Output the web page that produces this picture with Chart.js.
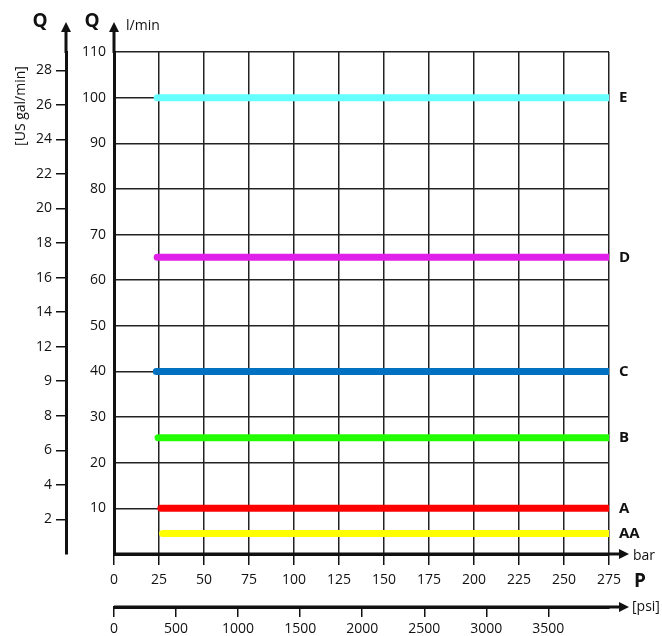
<!DOCTYPE html>
<html>
<head>
<meta charset="utf-8">
<script src="https://cdn.jsdelivr.net/npm/chart.js@4.4.1/dist/chart.umd.min.js"></script>
<style>
  html, body { margin: 0; padding: 0; background: #fff; }
  canvas { display: block; }
</style>
</head>
<body>
<canvas id="chart" width="662" height="636"></canvas>
<script>
// Kennlinien: Förderstrom Q über Druck P
const seriesNames = ["E", "D", "C", "B", "A", "AA"];
const flowLmin = [100, 65, 40, 25.5, 10, 4.5];
const startBar = [24, 24, 23.5, 24.5, 26, 27];
const endBar = [275, 275, 275, 275, 275, 275];
const seriesColors = ["#66ffff", "#e020e8", "#0070c0", "#22ff00", "#ff0000", "#ffff00"];

const barTicks = [0, 25, 50, 75, 100, 125, 150, 175, 200, 225, 250, 275];
const lminTicks = [10, 20, 30, 40, 50, 60, 70, 80, 90, 100, 110];
const galTicks = [2, 4, 6, 8, 10, 12, 14, 16, 18, 20, 22, 24, 26, 28];
// the original sheet prints "9" at the 10 gal mark
const galTickLabels = ["2", "4", "6", "8", "9", "12", "14", "16", "18", "20", "22", "24", "26", "28"];
const psiTicks = [0, 500, 1000, 1500, 2000, 2500, 3000, 3500];

const BAR_MAX = 275;
const LMIN_MAX = 110;
const LMIN_PER_GAL = 3.785411784;
const PSI_PER_BAR = 14.5038;

const FONT = "'Open Sans', 'DejaVu Sans', sans-serif";
const INK = "#111";

function setTicks(values) {
  return (scale) => {
    scale.ticks = values.map((v) => ({ value: v }));
  };
}

function arrowUp(ctx, x, yTip) {
  ctx.beginPath();
  ctx.moveTo(x, yTip);
  ctx.lineTo(x - 5, yTip + 10);
  ctx.lineTo(x + 5, yTip + 10);
  ctx.closePath();
  ctx.fill();
}

function arrowRight(ctx, xTip, y) {
  ctx.beginPath();
  ctx.moveTo(xTip, y);
  ctx.lineTo(xTip - 10, y - 5);
  ctx.lineTo(xTip - 10, y + 5);
  ctx.closePath();
  ctx.fill();
}

const axisDecor = {
  id: "axisDecor",
  afterDraw(chart) {
    const { ctx, chartArea, scales } = chart;
    ctx.save();
    ctx.strokeStyle = INK;
    ctx.fillStyle = INK;
    ctx.lineWidth = 3;

    // vertical axes extended upwards with arrows
    [scales.yGal.right, scales.y.right].forEach((x) => {
      ctx.beginPath();
      ctx.moveTo(x, chartArea.top + 1);
      ctx.lineTo(x, 31);
      ctx.stroke();
      arrowUp(ctx, x, 22);
    });

    // horizontal axes extended to the right with arrows
    [scales.x.top, scales.xPsi.top].forEach((y) => {
      ctx.beginPath();
      ctx.moveTo(scales.x.left, y);
      ctx.lineTo(620, y);
      ctx.stroke();
      arrowRight(ctx, 629, y);
    });

    // series labels at the end of each line
    ctx.font = `bold 15px ${FONT}`;
    ctx.textAlign = "left";
    ctx.textBaseline = "middle";
    seriesNames.forEach((name, i) => {
      const y = scales.y.getPixelForValue(flowLmin[i]);
      ctx.fillText(name, chartArea.right + 10, y);
    });

    // axis titles
    ctx.font = `bold 19px ${FONT}`;
    ctx.textAlign = "center";
    ctx.fillText("Q", 40, 22);
    ctx.fillText("Q", 92, 22);
    ctx.fillText("P", 640, 582);

    ctx.font = `14px ${FONT}`;
    ctx.textAlign = "left";
    ctx.fillText("l/min", 126, 26);
    ctx.fillText("bar", 633, 556);
    ctx.fillText("[psi]", 632, 607);

    ctx.save();
    ctx.translate(21, 106);
    ctx.rotate(-Math.PI / 2);
    ctx.textAlign = "center";
    ctx.font = `14px ${FONT}`;
    ctx.fillText("[US gal/min]", 0, 0);
    ctx.restore();

    ctx.restore();
  },
};

const datasets = seriesNames.map((name, i) => ({
  label: name,
  data: [
    { x: startBar[i], y: flowLmin[i] },
    { x: endBar[i], y: flowLmin[i] },
  ],
  borderColor: seriesColors[i],
  borderWidth: 7,
  borderCapStyle: "round",
  pointRadius: 0,
  xAxisID: "x",
  yAxisID: "y",
}));

const tickFont = { family: FONT, size: 14 };

new Chart(document.getElementById("chart"), {
  type: "line",
  data: { datasets },
  plugins: [axisDecor],
  options: {
    responsive: false,
    animation: false,
    devicePixelRatio: 1,
    layout: { padding: { top: 52, right: 53, left: 0, bottom: 0 } },
    plugins: { legend: { display: false }, tooltip: { enabled: false } },
    scales: {
      x: {
        type: "linear",
        position: "bottom",
        weight: 0,
        min: 0,
        max: BAR_MAX,
        afterBuildTicks: setTicks(barTicks),
        ticks: { color: INK, font: tickFont, padding: 7, maxRotation: 0, autoSkip: false, callback: (v) => String(v) },
        grid: { color: "#222", lineWidth: 1.5, tickLength: 11, tickColor: INK, tickWidth: 1.5 },
        border: { color: INK, width: 3 },
        afterFit: (s) => { s.height = 53; },
      },
      xPsi: {
        type: "linear",
        position: "bottom",
        weight: 1,
        min: 0,
        max: BAR_MAX * PSI_PER_BAR,
        afterBuildTicks: setTicks(psiTicks),
        ticks: { color: INK, font: tickFont, padding: 4, maxRotation: 0, autoSkip: false, callback: (v) => String(v) },
        grid: { drawOnChartArea: false, tickLength: 10, color: INK, lineWidth: 1.5 },
        border: { color: INK, width: 3 },
        afterFit: (s) => { s.height = 29; },
      },
      y: {
        type: "linear",
        position: "left",
        weight: 0,
        min: 0,
        max: LMIN_MAX,
        afterBuildTicks: setTicks(lminTicks),
        ticks: { color: INK, font: tickFont, padding: 8, autoSkip: false, callback: (v) => String(v) },
        grid: { color: "#222", lineWidth: 1.5, drawTicks: false },
        border: { color: INK, width: 3 },
        afterFit: (s) => { s.width = 48; },
      },
      yGal: {
        type: "linear",
        position: "left",
        weight: 1,
        min: 0,
        max: LMIN_MAX / LMIN_PER_GAL,
        afterBuildTicks: setTicks(galTicks),
        ticks: {
          color: INK,
          font: tickFont,
          padding: 4,
          autoSkip: false,
          callback: (v, i) => galTickLabels[i],
        },
        grid: { drawOnChartArea: false, tickLength: 10, lineWidth: 1.5, color: INK },
        border: { color: INK, width: 3 },
        afterFit: (s) => { s.width = 66; },
      },
    },
  },
});
</script>
</body>
</html>
